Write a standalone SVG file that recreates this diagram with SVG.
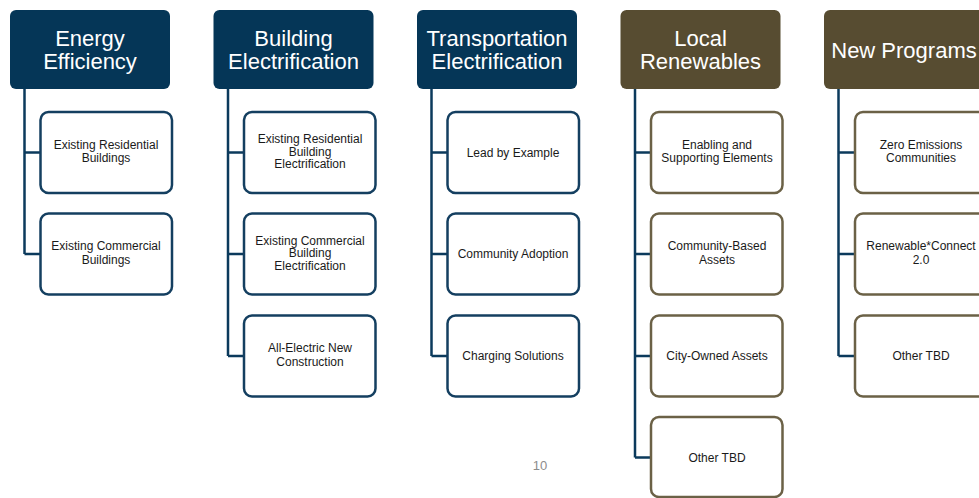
<svg xmlns="http://www.w3.org/2000/svg" width="979" height="498" viewBox="0 0 979 498">
<style>
.hb{fill:#053657}
.hr{fill:#574c31}
.ht{font-family:"Liberation Sans",Arial,sans-serif;font-size:22px;fill:#ffffff;text-anchor:middle}
.cb{fill:#ffffff;stroke:#143f60;stroke-width:2.5}
.cr{fill:#ffffff;stroke:#6b6146;stroke-width:2.5}
.ct{font-family:"Liberation Sans",Arial,sans-serif;font-size:12px;fill:#1a1a1a;text-anchor:middle}
.ln{fill:none;stroke:#0b3a5c;stroke-width:2.5}
.pg{font-family:"Liberation Sans",Arial,sans-serif;font-size:13px;fill:#8c8c8c;text-anchor:middle}
</style>
<g id="connectors">
<path class="ln" d="M24.5,89 V254 M24.5,152.5 H40 M24.5,254 H40"/>
<path class="ln" d="M228,89 V356 M228,152.5 H243.5 M228,254 H243.5 M228,356 H243.5"/>
<path class="ln" d="M431.5,89 V356 M431.5,152.5 H447 M431.5,254 H447 M431.5,356 H447"/>
<path class="ln" d="M635,89 V457.5 M635,152.5 H650.5 M635,254 H650.5 M635,356 H650.5 M635,457.5 H650.5"/>
<path class="ln" d="M838.5,89 V356 M838.5,152.5 H854 M838.5,254 H854 M838.5,356 H854"/>
</g>
<g id="h1"><rect class="hb" x="10" y="10" width="160" height="79" rx="6"/><text class="ht" x="90" y="46">Energy</text><text class="ht" x="90" y="69">Efficiency</text></g>
<g id="h2"><rect class="hb" x="213.5" y="10" width="160" height="79" rx="6"/><text class="ht" x="293.5" y="46">Building</text><text class="ht" x="293.5" y="69">Electrification</text></g>
<g id="h3"><rect class="hb" x="417" y="10" width="160" height="79" rx="6"/><text class="ht" x="497" y="46">Transportation</text><text class="ht" x="497" y="69">Electrification</text></g>
<g id="h4"><rect class="hr" x="620.5" y="10" width="160" height="79" rx="6"/><text class="ht" x="700.5" y="46">Local</text><text class="ht" x="700.5" y="69">Renewables</text></g>
<g id="h5"><rect class="hr" x="824" y="10" width="160" height="79" rx="6"/><text class="ht" x="904" y="57.5">New Programs</text></g>

<g id="c1a"><rect class="cb" x="40.5" y="112" width="131.5" height="81" rx="8"/><text class="ct" x="106" y="148.5">Existing Residential</text><text class="ct" x="106" y="162">Buildings</text></g>
<g id="c1b"><rect class="cb" x="40.5" y="213.5" width="131.5" height="81" rx="8"/><text class="ct" x="106" y="250">Existing Commercial</text><text class="ct" x="106" y="263.5">Buildings</text></g>

<g id="c2a"><rect class="cb" x="244" y="112" width="131.5" height="81" rx="8"/><text class="ct" x="310" y="143">Existing Residential</text><text class="ct" x="310" y="155.5">Building</text><text class="ct" x="310" y="168">Electrification</text></g>
<g id="c2b"><rect class="cb" x="244" y="213.5" width="131.5" height="81" rx="8"/><text class="ct" x="310" y="244.5">Existing Commercial</text><text class="ct" x="310" y="257">Building</text><text class="ct" x="310" y="269.5">Electrification</text></g>
<g id="c2c"><rect class="cb" x="244" y="315.5" width="131.5" height="81" rx="8"/><text class="ct" x="310" y="352">All-Electric New</text><text class="ct" x="310" y="365.5">Construction</text></g>

<g id="c3a"><rect class="cb" x="447.5" y="112" width="131.5" height="81" rx="8"/><text class="ct" x="513" y="156.5">Lead by Example</text></g>
<g id="c3b"><rect class="cb" x="447.5" y="213.5" width="131.5" height="81" rx="8"/><text class="ct" x="513" y="258">Community Adoption</text></g>
<g id="c3c"><rect class="cb" x="447.5" y="315.5" width="131.5" height="81" rx="8"/><text class="ct" x="513" y="360">Charging Solutions</text></g>

<g id="c4a"><rect class="cr" x="651" y="112" width="131.5" height="81" rx="8"/><text class="ct" x="717" y="148.5">Enabling and</text><text class="ct" x="717" y="162">Supporting Elements</text></g>
<g id="c4b"><rect class="cr" x="651" y="213.5" width="131.5" height="81" rx="8"/><text class="ct" x="717" y="250">Community-Based</text><text class="ct" x="717" y="263.5">Assets</text></g>
<g id="c4c"><rect class="cr" x="651" y="315.5" width="131.5" height="81" rx="8"/><text class="ct" x="717" y="360">City-Owned Assets</text></g>
<g id="c4d"><rect class="cr" x="651" y="417" width="131.5" height="80" rx="8"/><text class="ct" x="717" y="461.5">Other TBD</text></g>

<g id="c5a"><rect class="cr" x="855" y="112" width="131.5" height="81" rx="8"/><text class="ct" x="921" y="148.5">Zero Emissions</text><text class="ct" x="921" y="162">Communities</text></g>
<g id="c5b"><rect class="cr" x="855" y="213.5" width="131.5" height="81" rx="8"/><text class="ct" x="921" y="250">Renewable*Connect</text><text class="ct" x="921" y="263.5">2.0</text></g>
<g id="c5c"><rect class="cr" x="855" y="315.5" width="131.5" height="81" rx="8"/><text class="ct" x="921" y="360">Other TBD</text></g>

<text class="pg" x="540" y="470">10</text>
</svg>
